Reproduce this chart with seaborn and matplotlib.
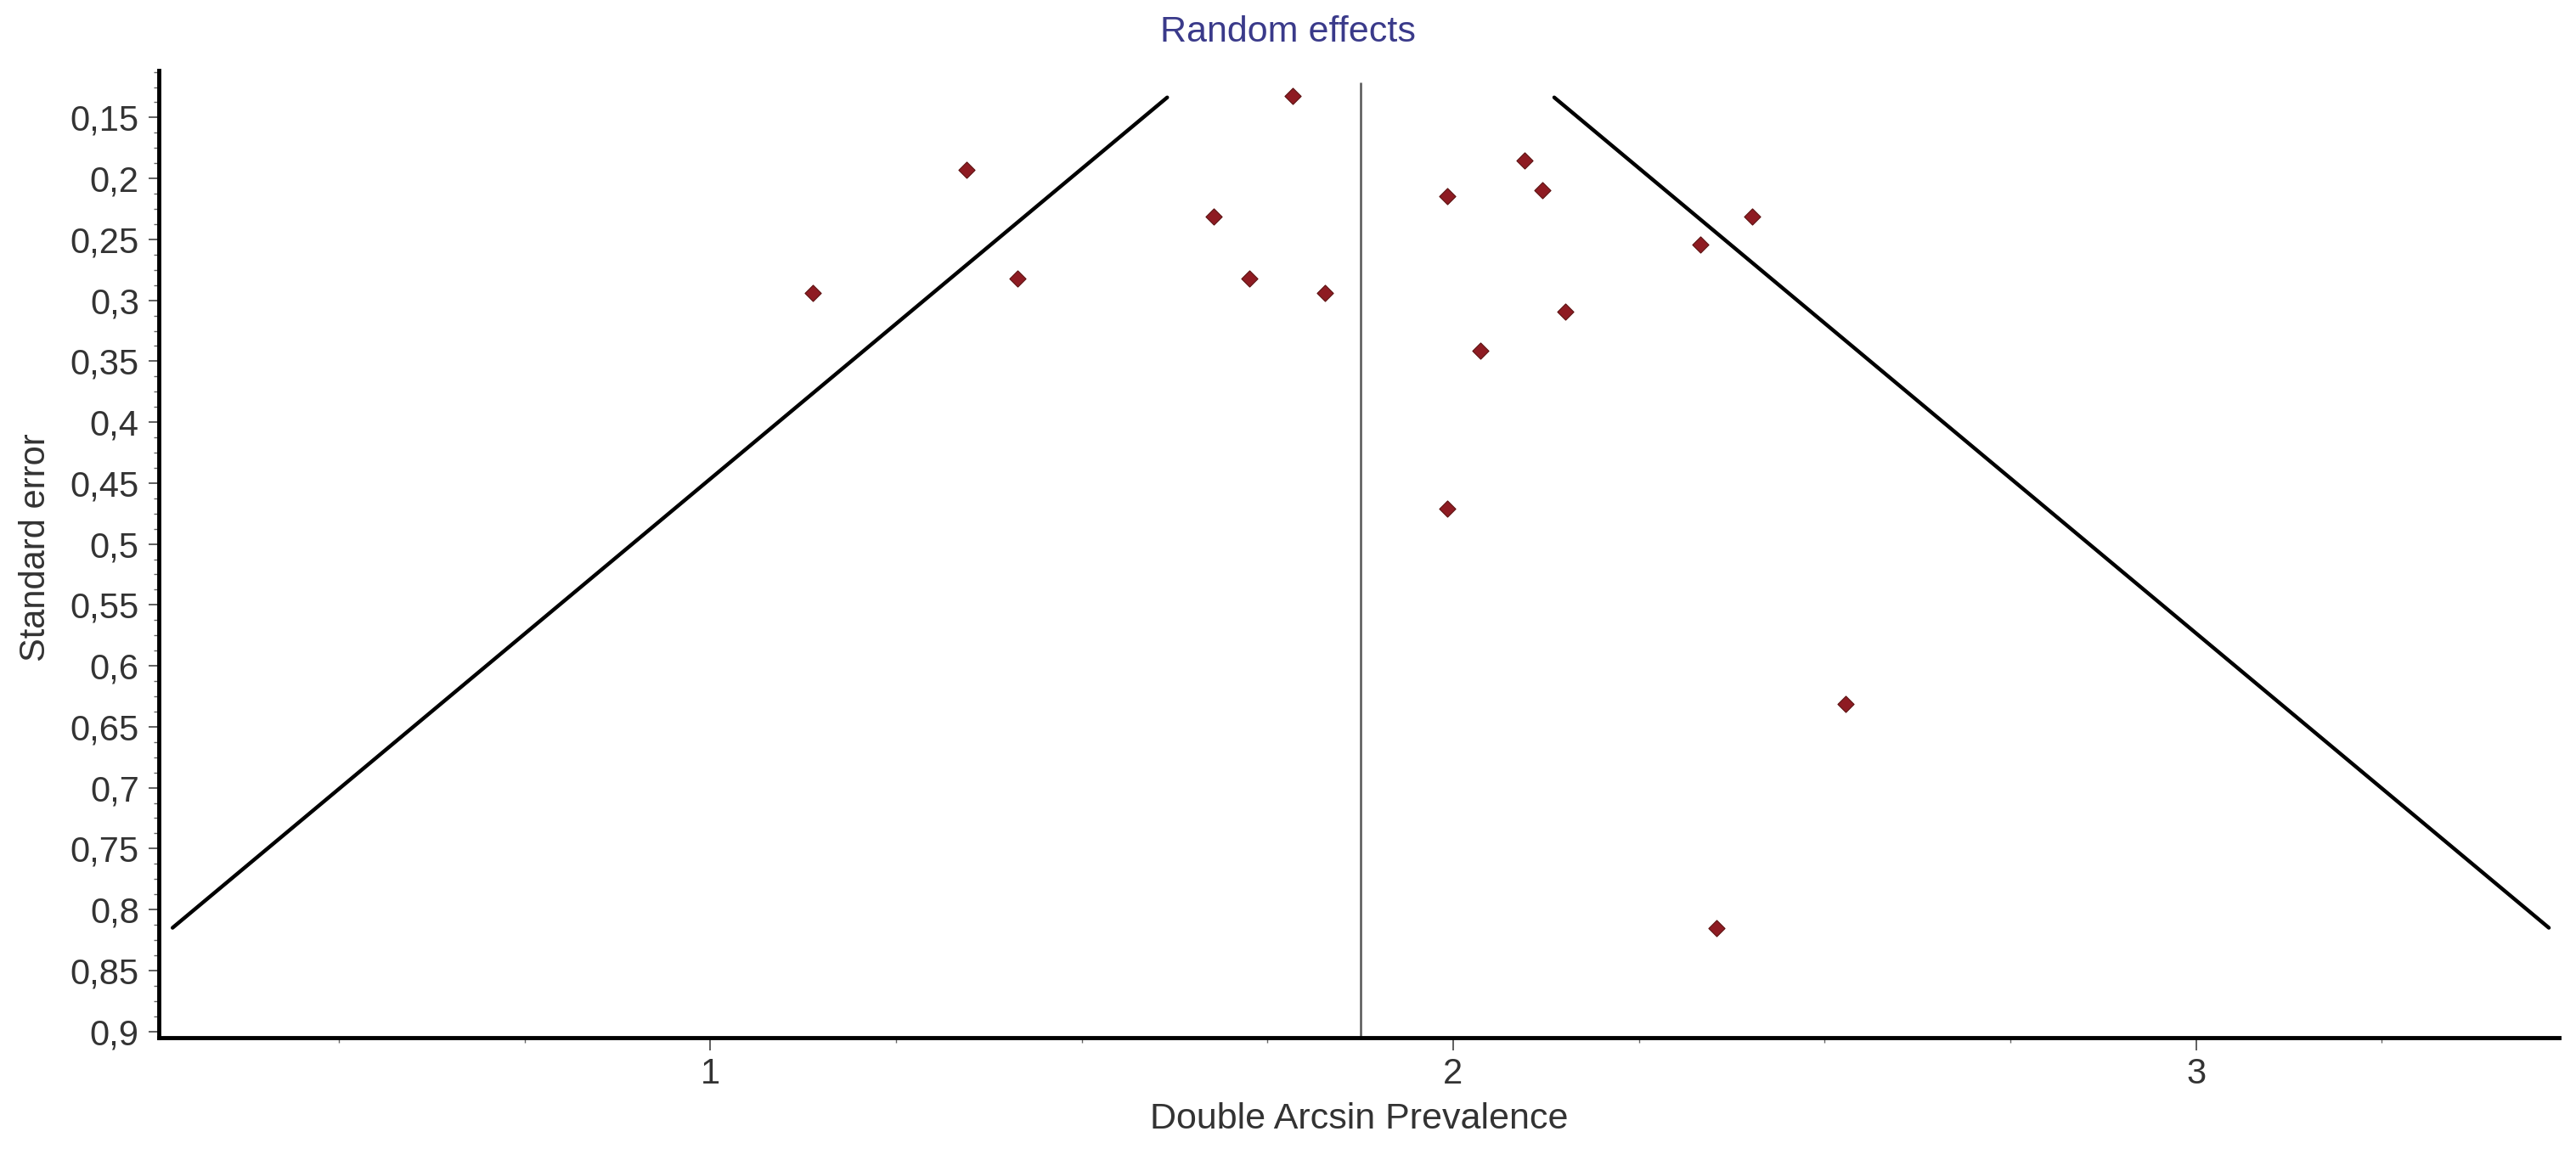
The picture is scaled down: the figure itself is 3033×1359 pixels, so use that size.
import matplotlib
matplotlib.use('Agg')
import matplotlib.pyplot as plt
import seaborn as sns
import pandas as pd
from matplotlib.ticker import FixedLocator, MultipleLocator

# study estimates
prevalence = [1.138, 1.345, 1.414, 1.677, 1.784, 1.726, 1.827, 1.992, 2.096,
              2.120, 2.151, 2.037, 1.992, 2.333, 2.403, 2.528, 2.355]
std_error = [0.294, 0.193, 0.282, 0.231, 0.132, 0.282, 0.294, 0.2145, 0.185,
             0.210, 0.309, 0.3415, 0.471, 0.254, 0.231, 0.6315, 0.815]

# pooled estimate (random effects) and funnel limits
pooled = 1.875
pooled_se_span = [0.121, 0.905]
funnel_se = [0.815, 0.1335]
funnel_left = [0.276, 1.615]
funnel_right = [3.475, 2.136]

y_ticks = [0.15, 0.2, 0.25, 0.3, 0.35, 0.4, 0.45, 0.5, 0.55, 0.6, 0.65,
           0.7, 0.75, 0.8, 0.85, 0.9]
y_labels = ['0,15', '0,2', '0,25', '0,3', '0,35', '0,4', '0,45', '0,5',
            '0,55', '0,6', '0,65', '0,7', '0,75', '0,8', '0,85', '0,9']
x_ticks = [1, 2, 3]
x_minor = [0.5, 0.75, 1.25, 1.5, 1.75, 2.25, 2.5, 2.75, 3.25]

sns.set_theme(style='white')
plt.rcParams['font.family'] = ['Liberation Sans', 'DejaVu Sans']

studies = pd.DataFrame({'prevalence': prevalence, 'se': std_error})
funnel = pd.DataFrame({'left': funnel_left, 'right': funnel_right, 'se': funnel_se})

fig = plt.figure(figsize=(30.33, 13.59), dpi=100)
ax = fig.add_axes([0.0618, 0.101, 0.9317, 0.8377])

sns.lineplot(data=funnel, x='left', y='se', sort=False, estimator=None,
             color='black', linewidth=3.2, ax=ax)
sns.lineplot(data=funnel, x='right', y='se', sort=False, estimator=None,
             color='black', linewidth=3.2, ax=ax)
ax.vlines(pooled, pooled_se_span[0], pooled_se_span[1], color='#555555', linewidth=1.8)

sns.scatterplot(data=studies, x='prevalence', y='se', marker='D', s=95,
                color='#8e1b22', edgecolor='#5c1212', linewidth=0.8, zorder=5, ax=ax)

ax.set_xlim(0.258, 3.489)
ax.set_ylim(0.905, 0.1116)

ax.xaxis.set_major_locator(FixedLocator(x_ticks))
ax.xaxis.set_minor_locator(FixedLocator(x_minor))
ax.set_xticklabels([str(t) for t in x_ticks])
ax.yaxis.set_major_locator(FixedLocator(y_ticks))
ax.yaxis.set_minor_locator(MultipleLocator(0.0125))
ax.set_yticklabels(y_labels)

for side in ['top', 'right']:
    ax.spines[side].set_visible(False)
for side in ['left', 'bottom']:
    ax.spines[side].set_linewidth(3.5)
    ax.spines[side].set_color('black')

ax.tick_params(axis='both', which='major', direction='out', length=10, width=1.2,
               color='#444444', labelsize=30, labelcolor='#333333')
ax.tick_params(axis='both', which='minor', direction='out', length=4, width=1.0,
               color='#666666')
ax.tick_params(axis='x', which='major', pad=6, length=11)
ax.tick_params(axis='y', which='major', pad=8, length=9)
ax.tick_params(axis='both', which='both', bottom=True, left=True)

ax.set_xlabel('Double Arcsin Prevalence', fontsize=31, color='#333333', va='center')
ax.xaxis.set_label_coords(0.5, -0.0846)
ax.set_ylabel('Standard error', fontsize=30, color='#333333', va='center')
ax.yaxis.set_label_coords(-0.0514, 0.507)

fig.text(0.5, 0.972, 'Random effects', ha='center', va='center',
         fontsize=31, color='#3a3a8a')

plt.savefig('out.png', dpi=100)
